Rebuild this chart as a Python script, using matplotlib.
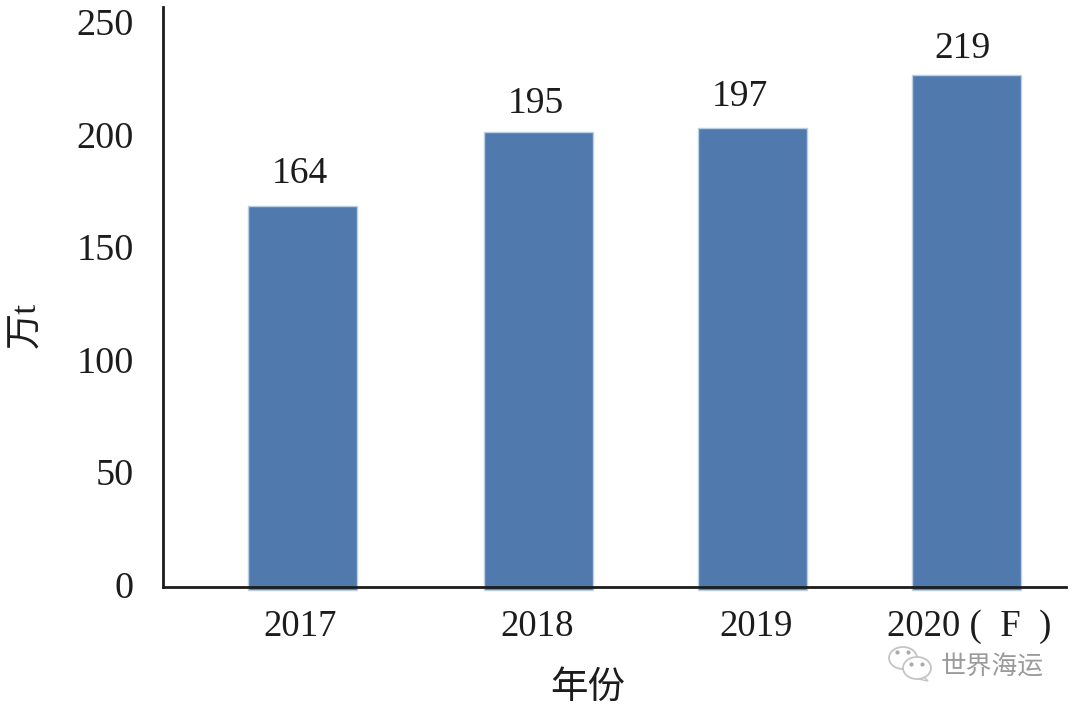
import matplotlib
matplotlib.use('Agg')
import matplotlib.pyplot as plt
from matplotlib.patches import Ellipse, Polygon

categories = ['2017', '2018', '2019', '2020 (  F  )']
heights = [169.4, 201.9, 203.9, 227.4]
labels = ['164', '195', '197', '219']
yticks = [0, 50, 100, 150, 200, 250]

# layout, in reference pixels
centers = [302, 538, 752, 966]
label_x = [300, 536, 740, 962]
label_px_y = [171, 101, 94, 46]
cat_x = [300, 537, 756, 969]

plt.rcParams['font.family'] = ['Liberation Serif', 'Noto Sans CJK SC', 'DejaVu Sans']
fig = plt.figure(figsize=(10.8, 7.13), dpi=100)
ax = fig.add_axes([0, 0, 1, 1])
ax.set_xlim(0, 1080)
px_per = (587 - 24) / 250
ax.set_ylim(-(713 - 587) / px_per, 587 / px_per)
ax.axis('off')
def py(p):
    return (587 - p) / px_per

ink = '#1c1c1c'
blue = '#5079ae'
ax.bar(centers, [h + 1.2 for h in heights], bottom=-1.2, width=109, color=blue,
       edgecolor='#bcd0e4', linewidth=1.0, zorder=2)
for x, p, l in zip(label_x, label_px_y, labels):
    ax.text(x, py(p + 3), l, ha='center', va='center', fontsize=27, color=ink)

x0 = 163
ax.plot([x0, x0], [0, py(7)], color=ink, lw=2, zorder=3)
ax.plot([x0, 1066], [0, 0], color=ink, lw=2, zorder=3)

for t in yticks:
    ax.text(134, t - 0.8, str(t), ha='right', va='center', fontsize=27.5, color=ink)
for x, c in zip(cat_x, categories):
    ax.text(x, py(627), c, ha='center', va='center', fontsize=26.5, color=ink)

ax.text(588, py(689), '年份', ha='center', va='center', fontsize=27, color=ink)
ax.text(27, py(325), '万t', rotation=90, ha='center', va='center', fontsize=26, color=ink)
ax.text(992, py(668), '世界海运', ha='center', va='center', fontsize=18.5, color='#9a9a9a',
        family=['Noto Sans CJK SC', 'DejaVu Sans'], zorder=5)

# WeChat-style watermark logo
grey = '#c4c4c4'
big = Ellipse((903, py(658)), 28, 22 / px_per, fc='white', ec=grey, lw=1.3, zorder=4)
small = Ellipse((917, py(668)), 28, 22 / px_per, fc='white', ec=grey, lw=1.3, zorder=5)
tail = Polygon([(924, py(677)), (928, py(681)), (918, py(679))], closed=True, fc='white', ec=grey, lw=1, zorder=5)
ax.add_patch(big); ax.add_patch(tail); ax.add_patch(small)
for ex, ey, z in [(897, 652, 4), (908, 652, 4), (911, 664, 6), (922, 664, 6)]:
    ax.plot([ex], [py(ey)], 'o', ms=2, color='#aaaaaa', zorder=z)

fig.savefig('out.png', dpi=100)
